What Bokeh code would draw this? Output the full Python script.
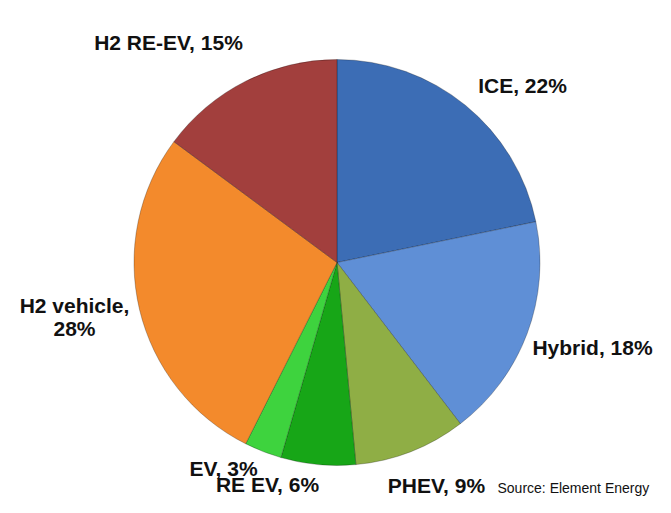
import numpy as np
from bokeh.plotting import figure
from bokeh.models import ColumnDataSource
from bokeh.core.properties import value
from bokeh.embed import file_html
from bokeh.resources import INLINE

# ---- data ----
categories = ["ICE", "Hybrid", "PHEV", "RE EV", "EV", "H2 vehicle", "H2 RE-EV"]
shares = [22, 18, 9, 6, 3, 28, 15]
labels = ["ICE, 22%", "Hybrid, 18%", "PHEV, 9%", "RE EV, 6%", "EV, 3%",
          "H2 vehicle,\n28%", "H2 RE-EV, 15%"]
colors = ["#3c6db5", "#5f8fd6", "#8fae45", "#17a617", "#3ed33e", "#f38a2c", "#a23f3d"]
source_note = "Source: Element Energy"

# ---- layout (pixels) ----
W, H = 655, 497
cx, cy, R = 336.5, H - 262, 203
# label anchor positions (picture pixel coords, converted below)
label_px = [(522, 85), (592, 347), (436, 485), (267, 484), (223, 468), (74, 316), (168, 42)]

vals = np.array(shares, dtype=float)
frac = vals / vals.sum()
cum = np.concatenate([[0], np.cumsum(frac)])
start = np.pi / 2 - 2 * np.pi * cum[:-1]
end = np.pi / 2 - 2 * np.pi * cum[1:]

src = ColumnDataSource(dict(cat=categories, start=start, end=end, color=colors))

lx = [x for x, y in label_px]
ly = [H - y for x, y in label_px]
lsrc = ColumnDataSource(dict(x=lx, y=ly, text=labels))

p = figure(width=W, height=H, x_range=(0, W), y_range=(0, H),
           output_backend="svg", toolbar_location=None, min_border=0)
p.axis.visible = False
p.grid.visible = False
p.outline_line_color = None
p.background_fill_color = "white"

p.wedge(x=cx, y=cy, radius=R, start_angle="start", end_angle="end",
        direction="clock", fill_color="color", line_color="rgba(0,0,0,0.25)",
        line_width=1, source=src)

p.text(x="x", y="y", text="text", source=lsrc, text_font=value("Liberation Sans"),
       text_font_style="bold", text_font_size="21px", text_align="center",
       text_baseline="middle", text_color="#111111", text_line_height=1.0)

p.text(x=[497], y=[H - 479], text=[source_note], text_font=value("Liberation Sans"),
       text_font_size="14px", text_align="left", text_baseline="top", text_color="#111111")

open("out.html", "w").write(file_html(p, INLINE))
